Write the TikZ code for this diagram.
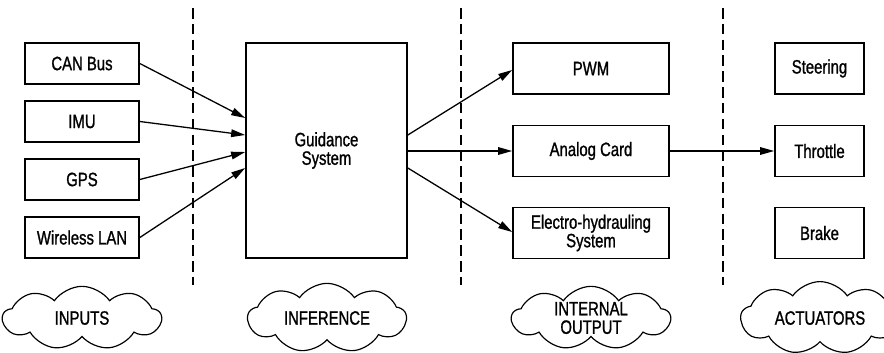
\documentclass[tikz,border=0pt]{standalone}
\usepackage{fontspec}
\setmainfont{Liberation Sans}[FakeStretch=0.77, FakeBold=1.1]
\usetikzlibrary{arrows.meta, calc, shapes.symbols}

\begin{document}
\begin{tikzpicture}[x=0.03cm, y=-0.03cm, >={Triangle[length=12pt, width=6.5pt]},
  caja/.style={draw, line width=1.4pt, align=center, inner sep=0pt,
    font=\fontsize{16.5}{15.8}\selectfont},
  nube/.style={cloud, draw, line width=1pt, cloud puffs=9, cloud puff arc=110,
    aspect=2.4, minimum width=4.75cm, minimum height=1.9cm, align=center,
    inner sep=0pt, font=\fontsize{16.5}{15.8}\selectfont},
  flecha/.style={->, line width=1.1pt},
  division/.style={line width=1.3pt, dash pattern=on 9pt off 4.5pt}]
  \useasboundingbox (0,0) rectangle (884,352);

  % Entradas
  \node[caja, minimum width=3.42cm, minimum height=1.23cm] (can) at (82,63.5) {CAN Bus};
  \node[caja, minimum width=3.42cm, minimum height=1.23cm] (imu) at (82,121.5) {IMU};
  \node[caja, minimum width=3.42cm, minimum height=1.23cm] (gps) at (82,179.5) {GPS};
  \node[caja, minimum width=3.42cm, minimum height=1.23cm] (wlan) at (82,237.5) {Wireless LAN};

  % Sistema de guiado
  \node[caja, minimum width=4.83cm, minimum height=6.45cm] (guia) at (326.5,150.5) {Guidance\\System};

  % Salidas internas
  \node[caja, minimum width=4.68cm, minimum height=1.53cm] (pwm) at (591,68.5) {PWM};
  \node[caja, minimum width=4.68cm, minimum height=1.53cm] (analog) at (591,151) {Analog Card};
  \node[caja, minimum width=4.68cm, minimum height=1.53cm] (ehs) at (591,233) {Electro-hydrauling\\System};

  % Actuadores
  \node[caja, minimum width=2.67cm, minimum height=1.53cm] (steer) at (819.5,68.5) {Steering};
  \node[caja, minimum width=2.67cm, minimum height=1.53cm] (throttle) at (819.5,151) {Throttle};
  \node[caja, minimum width=2.67cm, minimum height=1.53cm] (brake) at (819.5,233) {Brake};

  % Flechas de entrada
  \draw[flecha] (can.east) -- ($(guia.west)+(0,-32.5)$);
  \draw[flecha] (imu.east) -- ($(guia.west)+(0,-15.5)$);
  \draw[flecha] (gps.east) -- ($(guia.west)+(0,1.5)$);
  \draw[flecha] (wlan.east) -- ($(guia.west)+(0,17.5)$);

  % Flechas de salida
  \draw[flecha] ($(guia.east)+(0,-15.5)$) -- ($(pwm.west)+(0,1.5)$);
  \draw[flecha] ($(guia.east)+(0,0.5)$) -- (analog.west);
  \draw[flecha] ($(guia.east)+(0,17.5)$) -- ($(ehs.west)+(0,-1)$);
  \draw[flecha] (analog.east) -- (throttle.west);

  % Divisiones
  \draw[division] (193,8) -- (193,285);
  \draw[division] (461,8) -- (461,285);
  \draw[division] (723,8) -- (723,285);

  % Nubes
  \node[nube] (entradas) at (82,318) {INPUTS};
  \node[nube] (inferencia) at (327,318) {INFERENCE};
  \node[nube] (interna) at (591,318) {INTERNAL\\OUTPUT};
  \node[nube] (actuadores) at (820,318) {ACTUATORS};

\end{tikzpicture}
\end{document}
